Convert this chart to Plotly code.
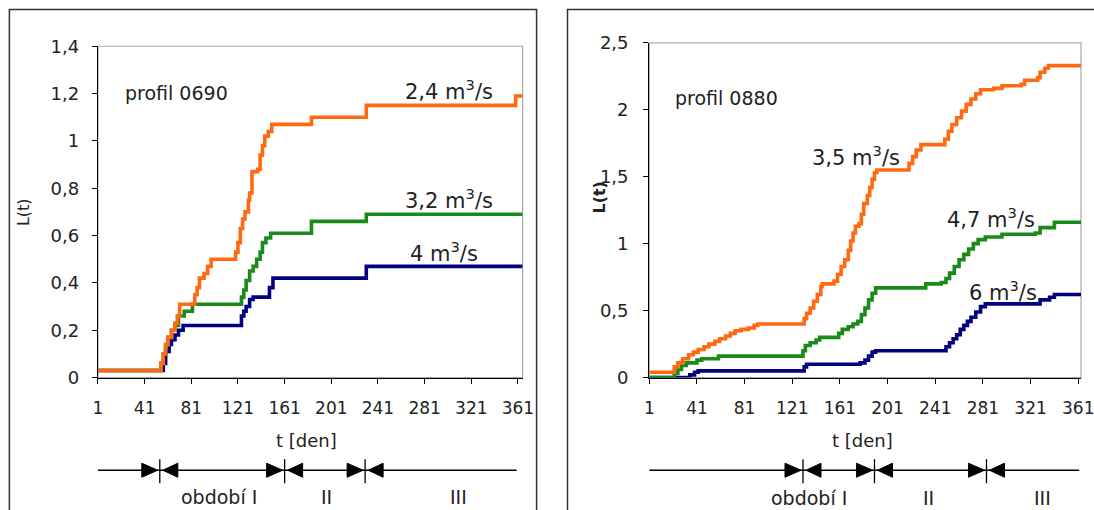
import plotly.graph_objects as go

# ---------------- data ----------------
tick_days = [1, 41, 81, 121, 161, 201, 241, 281, 321, 361]
left_ytick_vals = [0, 0.2, 0.4, 0.6, 0.8, 1.0, 1.2, 1.4]
left_ytick_text = ["0", "0,2", "0,4", "0,6", "0,8", "1", "1,2", "1,4"]
right_ytick_vals = [0, 0.5, 1.0, 1.5, 2.0, 2.5]
right_ytick_text = ["0", "0,5", "1", "1,5", "2", "2,5"]

# profil 0690
l_orange_t = [1, 53, 55, 57, 59, 61, 64, 67, 69, 71, 82, 84, 86, 88, 92, 95, 98, 117, 119, 121, 123, 125, 127,
              130, 131, 133, 138, 140, 142, 144, 147, 150, 183, 184, 230, 231, 357, 359, 365]
l_orange_L = [0.03, 0.03, 0.06, 0.10, 0.14, 0.17, 0.20, 0.23, 0.26, 0.31, 0.31, 0.35, 0.38, 0.42, 0.44, 0.47, 0.50,
              0.50, 0.53, 0.57, 0.63, 0.67, 0.70, 0.75, 0.78, 0.87, 0.88, 0.94, 0.98, 1.02, 1.04, 1.07, 1.07, 1.10,
              1.10, 1.15, 1.15, 1.19, 1.19]
l_green_t = [1, 53, 55, 57, 59, 61, 64, 67, 70, 75, 80, 82, 122, 124, 126, 128, 131, 134, 137, 140, 142, 145, 149,
             183, 184, 230, 231, 365]
l_green_L = [0.03, 0.03, 0.06, 0.10, 0.14, 0.17, 0.20, 0.22, 0.26, 0.28, 0.28, 0.31, 0.31, 0.34, 0.37, 0.41, 0.45,
             0.47, 0.50, 0.53, 0.57, 0.59, 0.61, 0.61, 0.66, 0.66, 0.69, 0.69]
l_blue_t = [1, 55, 57, 59, 62, 64, 67, 70, 74, 122, 124, 126, 128, 131, 134, 146, 148, 151, 230, 231, 365]
l_blue_L = [0.03, 0.03, 0.06, 0.11, 0.14, 0.16, 0.18, 0.20, 0.22, 0.22, 0.26, 0.28, 0.30, 0.33, 0.34, 0.34, 0.38,
            0.42, 0.42, 0.47, 0.47]

# profil 0880
r_orange_t = [1, 20, 22, 25, 29, 34, 38, 42, 47, 51, 56, 60, 65, 69, 73, 78, 84, 89, 92, 129, 131, 133, 136, 139,
              142, 145, 146, 153, 156, 159, 162, 165, 168, 170, 172, 174, 177, 179, 181, 184, 186, 188, 190, 192,
              216, 219, 222, 225, 229, 246, 249, 252, 255, 259, 263, 267, 271, 275, 279, 290, 297, 313, 316, 327,
              329, 333, 336, 365]
r_orange_L = [0.04, 0.04, 0.08, 0.11, 0.14, 0.17, 0.19, 0.21, 0.23, 0.25, 0.27, 0.29, 0.31, 0.33, 0.35, 0.36, 0.37,
              0.39, 0.40, 0.40, 0.44, 0.48, 0.52, 0.57, 0.62, 0.68, 0.70, 0.70, 0.72, 0.77, 0.83, 0.88, 0.95, 1.02,
              1.08, 1.13, 1.15, 1.22, 1.30, 1.36, 1.42, 1.48, 1.53, 1.55, 1.55, 1.60, 1.65, 1.70, 1.74, 1.74, 1.78,
              1.84, 1.89, 1.94, 1.99, 2.04, 2.08, 2.12, 2.15, 2.16, 2.18, 2.19, 2.22, 2.24, 2.28, 2.31, 2.33, 2.33]
r_green_t = [1, 20, 22, 25, 28, 32, 41, 45, 56, 59, 128, 130, 132, 136, 141, 144, 157, 160, 163, 168, 172, 176,
             179, 182, 185, 188, 191, 230, 233, 246, 250, 253, 257, 261, 265, 269, 273, 277, 283, 297, 325, 329,
             341, 365]
r_green_L = [0.0, 0.0, 0.03, 0.06, 0.09, 0.11, 0.13, 0.14, 0.14, 0.16, 0.16, 0.20, 0.24, 0.26, 0.28, 0.30, 0.30,
             0.33, 0.36, 0.38, 0.40, 0.42, 0.47, 0.52, 0.58, 0.63, 0.67, 0.67, 0.70, 0.71, 0.74, 0.78, 0.83, 0.88,
             0.92, 0.96, 1.00, 1.03, 1.05, 1.07, 1.08, 1.12, 1.16, 1.16]
r_blue_t = [1, 32, 35, 39, 42, 129, 131, 133, 160, 178, 182, 185, 188, 191, 247, 250, 253, 256, 259, 262, 265, 268,
            271, 275, 279, 283, 325, 329, 337, 341, 365]
r_blue_L = [0.0, 0.0, 0.02, 0.04, 0.05, 0.05, 0.08, 0.10, 0.10, 0.11, 0.13, 0.16, 0.19, 0.20, 0.20, 0.23, 0.26,
            0.29, 0.32, 0.36, 0.39, 0.42, 0.45, 0.49, 0.53, 0.55, 0.55, 0.58, 0.60, 0.62, 0.62]

# period boundaries (day) shown under each chart
left_periods = [54, 161, 230]
right_periods = [130, 190, 284]
period_labels = ["období I", "II", "III"]

# ---------------- figure ----------------
W, H = 1094, 510
ORANGE = "#FF6A10"
GREEN = "#1A8A1A"
NAVY = "#000080"
FONT = "DejaVu Sans, Verdana, sans-serif"
TXT = "#222"

# calibration between page pixels and the photographed picture
SX, OX = 0.986, 4.1
SY, OY = 0.955, 11.6


def px(x):
    return ((x - OX) / SX) / W


def py(y):
    return 1 - ((y - OY) / SY) / H


fig = go.Figure()
for t, v, c in [(l_blue_t, l_blue_L, NAVY), (l_green_t, l_green_L, GREEN), (l_orange_t, l_orange_L, ORANGE)]:
    fig.add_trace(go.Scatter(x=t, y=v, mode="lines", line=dict(color=c, width=3.6, shape="hv"),
                             xaxis="x", yaxis="y", showlegend=False, hoverinfo="skip"))
for t, v, c in [(r_blue_t, r_blue_L, NAVY), (r_green_t, r_green_L, GREEN), (r_orange_t, r_orange_L, ORANGE)]:
    fig.add_trace(go.Scatter(x=t, y=v, mode="lines", line=dict(color=c, width=3.6, shape="hv"),
                             xaxis="x2", yaxis="y2", showlegend=False, hoverinfo="skip"))

ax_common = dict(showline=True, linecolor="black", linewidth=1.3, ticks="outside", ticklen=5,
                 tickcolor="black", tickwidth=1, showgrid=False, zeroline=False)
xfont = dict(family=FONT, size=17, color=TXT)
yfont = dict(family=FONT, size=18, color=TXT)

# right plot area reaches the page edge; day shown at the edge
r_x0, r_day_px = 650.0, (1080.0 - 650.0) / 360.0
r_edge_ref = OX + SX * W
r_edge_day = 1 + (r_edge_ref - r_x0) / r_day_px

fig.update_layout(
    width=W, height=H, margin=dict(l=0, r=0, t=0, b=0),
    paper_bgcolor="white", plot_bgcolor="white",
    xaxis=dict(domain=[px(97.3), px(523)], range=[1, 365], tickvals=tick_days, anchor="y",
               ticklabelstandoff=10, tickfont=xfont, **ax_common),
    yaxis=dict(domain=[py(376.7), py(46.7)], range=[0, 1.4], tickvals=left_ytick_vals,
               ticktext=left_ytick_text, anchor="x", ticklabelstandoff=9, tickfont=yfont, **ax_common),
    xaxis2=dict(domain=[px(r_x0), 1.0], range=[1, r_edge_day], tickvals=tick_days, anchor="y2",
                ticklabelstandoff=10, tickfont=xfont, ticklabeloverflow="allow", **ax_common),
    yaxis2=dict(domain=[py(376.7), py(43.3)], range=[0, 2.5], tickvals=right_ytick_vals,
                ticktext=right_ytick_text, anchor="x2", ticklabelstandoff=11, tickfont=yfont, **ax_common),
)

shapes = []
# outer panel frames
shapes.append(dict(type="rect", xref="paper", yref="paper", x0=px(8.5), x1=px(537), y0=-0.05, y1=py(10),
                   line=dict(color="#333", width=1.5), layer="below"))
shapes.append(dict(type="rect", xref="paper", yref="paper", x0=px(568), x1=1.05, y0=-0.05, y1=py(10),
                   line=dict(color="#333", width=1.5), layer="below"))
# gray plot-area borders
for xa, ya in [("x", "y"), ("x2", "y2")]:
    shapes.append(dict(type="rect", xref=xa + " domain", yref=ya + " domain", x0=0, x1=1, y0=0, y1=1,
                       line=dict(color="#A8A8A8", width=1.2), layer="below"))

# period timelines
line_y = py(469)
for xa, periods, xs in [("x", left_periods, (-2.7, 359.9)), ("x2", right_periods, (0.2, 361.8))]:
    shapes.append(dict(type="line", xref=xa, yref="paper", x0=xs[0], x1=xs[1], y0=line_y, y1=line_y,
                       line=dict(color="black", width=1.3)))
    for p in periods:
        shapes.append(dict(type="line", xref=xa, yref="paper", xsizemode="pixel", xanchor=p,
                           x0=0, x1=0, y0=py(458), y1=py(482), line=dict(color="black", width=1.3)))
        shapes.append(dict(type="path", xref=xa, yref="paper", xsizemode="pixel", xanchor=p,
                           ysizemode="pixel", yanchor=line_y,
                           path="M -18,-7 L -2,0 L -18,7 Z", fillcolor="black", line=dict(color="black", width=1)))
        shapes.append(dict(type="path", xref=xa, yref="paper", xsizemode="pixel", xanchor=p,
                           ysizemode="pixel", yanchor=line_y,
                           path="M 3,0 L 18,-7 L 18,7 Z", fillcolor="black", line=dict(color="black", width=1)))
fig.update_layout(shapes=shapes)

ann = []


def text(x, y, s, size=19, **kw):
    ann.append(dict(x=px(x), y=py(y), xref="paper", yref="paper", text=s, showarrow=False,
                    xanchor="center", yanchor="middle",
                    font=dict(family=FONT, size=size, color=TXT), **kw))


text(176, 93, "profil 0690")
text(449, 90, "2,4 m<sup>3</sup>/s", size=21)
text(449, 199, "3,2 m<sup>3</sup>/s", size=21)
text(444, 252, "4 m<sup>3</sup>/s", size=21)
text(727, 98, "profil 0880")
text(857, 156, "3,5 m<sup>3</sup>/s", size=21)
text(993, 218, "4,7 m<sup>3</sup>/s", size=21)
text(1005, 290, "6 m<sup>3</sup>/s", size=21)
text(306, 439, "t [den]", size=18)
text(864, 439, "t [den]", size=18)
text(22, 212, "L(t)", size=16, textangle=-90)
text(600, 197, "<b>L(t)</b>", size=16, textangle=-90)
for lab, x in zip(period_labels, [219, 326, 459]):
    text(x, 496, lab)
for lab, x in zip(period_labels, [810, 930, 1044]):
    text(x, 497, lab)
fig.update_layout(annotations=ann)

fig.write_html("out.html", config={"displayModeBar": False},
               post_script="document.body.style.margin='0';document.body.style.overflow='hidden';")
